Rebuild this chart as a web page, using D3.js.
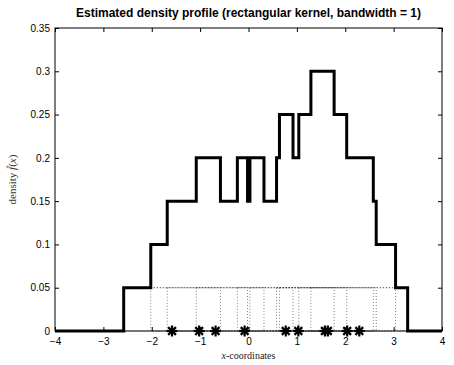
<!DOCTYPE html>
<html>
<head>
<meta charset="utf-8">
<script src="https://cdn.jsdelivr.net/npm/d3@7/dist/d3.min.js"></script>
<style>
  html, body { margin: 0; padding: 0; background: #fff; }
  svg { display: block; }
  .tick-label { font-family: "Liberation Sans", Arial, sans-serif; font-size: 10px; fill: #000; }
</style>
</head>
<body>
<svg id="chart" width="454" height="365"></svg>
<script>
// Sample points (marked with asterisks on the x-axis)
const samples = [-1.58, -1.02, -0.68, -0.08, 0.77, 1.03, 1.58, 1.64, 2.04, 2.29];
const bandwidth = 1;

// Axis ticks and labels
const xTicks = [-4, -3, -2, -1, 0, 1, 2, 3, 4];
const xTickLabels = ["\u22124", "\u22123", "\u22122", "\u22121", "0", "1", "2", "3", "4"];
const yTicks = [0, 0.05, 0.1, 0.15, 0.2, 0.25, 0.3, 0.35];
const yTickLabels = ["0", "0.05", "0.1", "0.15", "0.2", "0.25", "0.3", "0.35"];
const xDomain = [-4, 4];
const yDomain = [0, 0.35];

const titleText = "Estimated density profile (rectangular kernel, bandwidth = 1)";

const svg = d3.select("#chart");
const plot = { left: 55, right: 442, top: 28, bottom: 331 };

const x = d3.scaleLinear().domain(xDomain).range([plot.left, plot.right]);
const y = d3.scaleLinear().domain(yDomain).range([plot.bottom, plot.top]);

// Rectangular kernel density estimate
const n = samples.length;
const kernelHeight = 1 / (n * 2 * bandwidth);
const density = v => samples.filter(s => Math.abs(v - s) < bandwidth).length * kernelHeight;

const breaks = Array.from(new Set(
  samples.flatMap(s => [s - bandwidth, s + bandwidth]).concat(xDomain)
)).sort((a, b) => a - b);
const stepPoints = breaks.map((b, i) => {
  const next = i < breaks.length - 1 ? breaks[i + 1] : b;
  return [b, i < breaks.length - 1 ? density((b + next) / 2) : 0];
});
stepPoints[stepPoints.length - 1][1] = stepPoints[stepPoints.length - 2][1];

// Individual kernels, dotted
svg.append("g")
  .selectAll("rect")
  .data(samples)
  .join("rect")
  .attr("x", s => x(s - bandwidth))
  .attr("y", y(kernelHeight))
  .attr("width", s => x(s + bandwidth) - x(s - bandwidth))
  .attr("height", y(0) - y(kernelHeight))
  .attr("fill", "none")
  .attr("stroke", "#000")
  .attr("stroke-opacity", 0.5)
  .attr("stroke-width", 1)
  .attr("stroke-dasharray", "1,2");

// Summed density curve
svg.append("path")
  .datum(stepPoints)
  .attr("d", d3.line().x(d => x(d[0])).y(d => y(d[1])).curve(d3.curveStepAfter))
  .attr("fill", "none")
  .attr("stroke", "#000")
  .attr("stroke-width", 3)
  .attr("stroke-linejoin", "miter");

// Asterisk markers at the sample points
const star = svg.append("g")
  .selectAll("g")
  .data(samples)
  .join("g")
  .attr("transform", s => `translate(${x(s)},${y(0)})`);
const r = 5.5, rd = r * Math.SQRT1_2;
[[-r, 0, r, 0], [0, -r, 0, r], [-rd, -rd, rd, rd], [-rd, rd, rd, -rd]].forEach(([x1, y1, x2, y2]) => {
  star.append("line")
    .attr("x1", x1).attr("y1", y1).attr("x2", x2).attr("y2", y2)
    .attr("stroke", "#000").attr("stroke-width", 2.2);
});

// Axes box with inward ticks
const tickLen = 4;
svg.append("rect")
  .attr("x", plot.left).attr("y", plot.top)
  .attr("width", plot.right - plot.left).attr("height", plot.bottom - plot.top)
  .attr("fill", "none").attr("stroke", "#000").attr("stroke-width", 1);

const axisBottom = d3.axisBottom(x).tickValues(xTicks).tickSizeInner(-tickLen).tickSizeOuter(0)
  .tickPadding(7).tickFormat((d, i) => xTickLabels[i]);
const axisTop = d3.axisTop(x).tickValues(xTicks).tickSizeInner(-tickLen).tickSizeOuter(0).tickFormat("");
const axisLeft = d3.axisLeft(y).tickValues(yTicks).tickSizeInner(-tickLen).tickSizeOuter(0)
  .tickPadding(5).tickFormat((d, i) => yTickLabels[i]);
const axisRight = d3.axisRight(y).tickValues(yTicks).tickSizeInner(-tickLen).tickSizeOuter(0).tickFormat("");

function styleAxis(g) {
  g.select(".domain").remove();
  g.selectAll(".tick line").attr("stroke", "#000");
  g.selectAll(".tick text").attr("class", "tick-label").attr("fill", "#000");
}
svg.append("g").attr("transform", `translate(0,${plot.bottom})`).call(axisBottom).call(styleAxis);
svg.append("g").attr("transform", `translate(0,${plot.top})`).call(axisTop).call(styleAxis);
svg.append("g").attr("transform", `translate(${plot.left},0)`).call(axisLeft).call(styleAxis);
svg.append("g").attr("transform", `translate(${plot.right},0)`).call(axisRight).call(styleAxis);

// Title
svg.append("text")
  .attr("x", (plot.left + plot.right) / 2)
  .attr("y", 17)
  .attr("text-anchor", "middle")
  .attr("font-family", "Liberation Sans, Arial, sans-serif")
  .attr("font-weight", "bold")
  .attr("font-size", 12)
  .text(titleText);

// x-axis label
const xl = svg.append("text")
  .attr("x", (plot.left + plot.right) / 2)
  .attr("y", 359)
  .attr("text-anchor", "middle")
  .attr("font-family", "Liberation Serif, Times New Roman, serif")
  .attr("font-size", 10)
  .attr("fill", "#222");
xl.append("tspan").attr("font-style", "italic").text("x");
xl.append("tspan").text("-coordinates");

// y-axis label
const yl = svg.append("text")
  .attr("transform", `translate(16,${(plot.top + plot.bottom) / 2}) rotate(-90)`)
  .attr("text-anchor", "middle")
  .attr("font-family", "Liberation Serif, Times New Roman, serif")
  .attr("font-size", 11)
  .attr("fill", "#333");
yl.append("tspan").text("density  ");
yl.append("tspan").attr("font-style", "italic").text("f\u0302");
yl.append("tspan").text("(");
yl.append("tspan").attr("font-style", "italic").text("x");
yl.append("tspan").text(")");
</script>
</body>
</html>
